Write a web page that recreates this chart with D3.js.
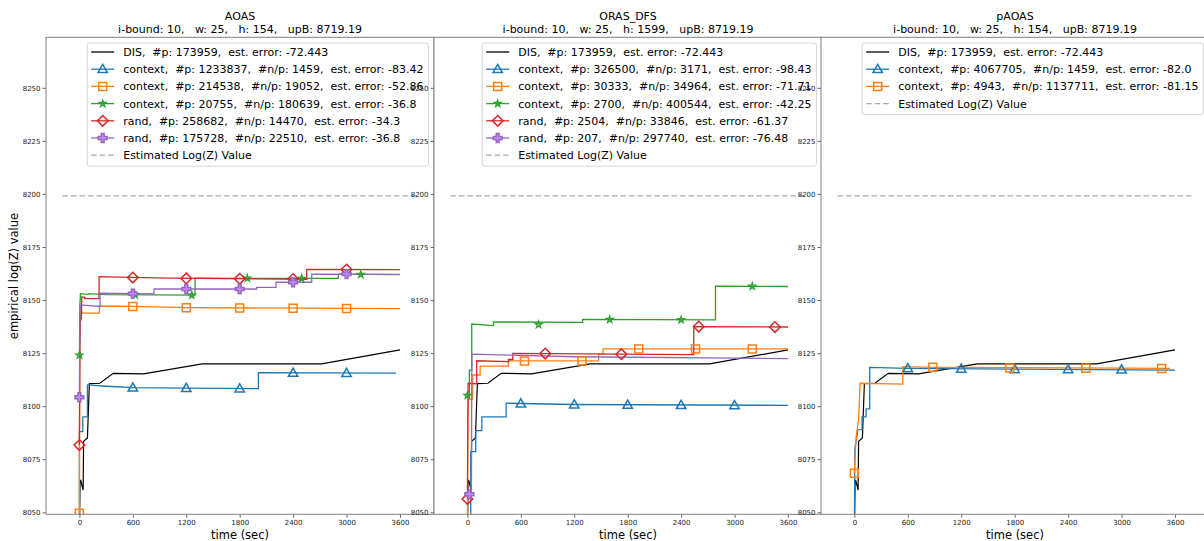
<!DOCTYPE html>
<html><head><meta charset="utf-8">
<script src="https://cdn.jsdelivr.net/npm/d3@7"></script>
<style>
body{margin:0;background:#fff}
svg{display:block}
text{font-family:"DejaVu Sans",sans-serif;white-space:pre}
</style>
</head><body>
<svg id="chart" width="1204" height="541"></svg>
<script>
// ---------- data ----------
const panelTitles = ["AOAS", "ORAS_DFS", "pAOAS"];
const panelSubtitles = [
  "i-bound: 10,   w: 25,   h: 154,   upB: 8719.19",
  "i-bound: 10,   w: 25,   h: 1599,   upB: 8719.19",
  "i-bound: 10,   w: 25,   h: 154,   upB: 8719.19"
];
const xTicks = [0, 600, 1200, 1800, 2400, 3000, 3600];
const yTicks = [8050, 8075, 8100, 8125, 8150, 8175, 8200, 8225, 8250];
const xDomain = [-375, 3982];
const yDomain = [8049.06, 8273.8];
const estimatedLogZ = 8199.1;
const estimatedSpan = [-190, 3790];

// DIS (same run in every panel)
const disLine = [[0,8040],[8,8065],[15,8065],[42,8060.5],[47,8083.5],[90,8085],[112,8110.6],[230,8110.8],[380,8115.5],[720,8115.2],[1380,8119.9],[2720,8119.9],[3600,8126.5]];
const disLabel = "DIS,  #p: 173959,  est. error: -72.443";

// AOAS
const aoasContextA = [[0,8040],[0,8088],[38,8088],[38,8095],[90,8095],[90,8110],[300,8109.4],[600,8108.7],[1200,8108.5],[2010,8108.3],[2010,8115.8],[3555,8115.6]];
const aoasContextAMarks = [[600,8108.7],[1200,8108.5],[1800,8108.3],[2400,8115.7],[3000,8115.6]];
const aoasContextB = [[0,8049.5],[5,8130],[12,8144.8],[27,8144.6],[30,8143.8],[225,8143.8],[225,8147.2],[600,8147],[1200,8146.4],[3600,8146]];
const aoasContextBMarks = [[0,8049.5],[600,8147],[1200,8146.4],[1800,8146.2],[2400,8146.1],[3000,8146]];
const aoasContextC = [[0,8124],[5,8147],[12,8153],[100,8152.7],[110,8153],[300,8152.6],[1299,8152.3],[1299,8160.3],[2908,8160.2],[2908,8162.2],[3600,8162]];
const aoasContextCMarks = [[0,8124],[625,8152.5],[1262,8152.3],[1886,8160.3],[2496,8160.2],[3160,8162]];
const aoasRandA = [[0,8081.7],[5,8130],[10,8140],[22,8141],[27,8151.5],[60,8151.3],[60,8150.7],[221,8150.7],[221,8161],[1000,8160.3],[2553,8159.8],[2553,8164.5],[3600,8164.3]];
const aoasRandAMarks = [[0,8081.7],[600,8160.6],[1200,8160.2],[1800,8160],[2400,8159.9],[3000,8164.4]];
const aoasRandB = [[0,8104.2],[5,8138],[10,8147.7],[232,8147],[232,8153.2],[838,8152.9],[838,8155.2],[1991,8155.2],[1991,8156],[2208,8156],[2208,8158.4],[2609,8158.4],[2609,8162.2],[3600,8162.1]];
const aoasRandBMarks = [[0,8104.2],[600,8153],[1200,8155.2],[1800,8155.2],[2400,8158.4],[3000,8162.2]];
const aoasLabels = [
  "context,  #p: 1233837,  #n/p: 1459,  est. error: -83.42",
  "context,  #p: 214538,  #n/p: 19052,  est. error: -52.86",
  "context,  #p: 20755,  #n/p: 180639,  est. error: -36.8",
  "rand,  #p: 258682,  #n/p: 14470,  est. error: -34.3",
  "rand,  #p: 175728,  #n/p: 22510,  est. error: -36.8"
];

// ORAS_DFS
const orasContextA = [[38,8040],[38,8078.6],[94,8078.6],[94,8088.5],[162,8088.5],[162,8095],[435,8095],[435,8101.4],[1200,8100.8],[3600,8100.4]];
const orasContextAMarks = [[600,8101.2],[1200,8100.8],[1800,8100.6],[2400,8100.5],[3000,8100.4]];
const orasContextB = [[0,8040],[5,8095],[12,8103.3],[60,8103.3],[60,8114.7],[143,8114.7],[143,8118.9],[461,8118.9],[461,8121.3],[1474,8121.3],[1474,8124.6],[1523,8124.6],[1523,8127],[3600,8127]];
const orasContextBMarks = [[641,8121.3],[1287,8121.3],[1924,8127],[2562,8127],[3199,8127]];
const orasContextC = [[0,8105],[22,8105],[22,8117],[49,8117],[49,8138.7],[293,8138],[293,8139.7],[1294,8139.5],[1294,8140.9],[2786,8140.7],[2786,8156.6],[3600,8156.4]];
const orasContextCMarks = [[0,8105],[799,8138.4],[1598,8140.8],[2400,8140.7],[3199,8156.5]];
const orasRandA = [[0,8056.3],[8,8110.8],[105,8110.5],[105,8121.4],[461,8121],[461,8122],[510,8122],[510,8124.9],[2542,8124.3],[2542,8137.5],[3600,8137.3]];
const orasRandAMarks = [[0,8056.3],[874,8124.8],[1729,8124.5],[2598,8137.5],[3453,8137.3]];
const orasRandB = [[22,8058.5],[45,8060],[50,8124.5],[1200,8123.3],[3600,8122.4]];
const orasRandBMarks = [[22,8058.5]];
const orasLabels = [
  "context,  #p: 326500,  #n/p: 3171,  est. error: -98.43",
  "context,  #p: 30333,  #n/p: 34964,  est. error: -71.71",
  "context,  #p: 2700,  #n/p: 400544,  est. error: -42.25",
  "rand,  #p: 2504,  #n/p: 33846,  est. error: -61.37",
  "rand,  #p: 207,  #n/p: 297740,  est. error: -76.48"
];

// pAOAS
const paoasContextA = [[0,8040],[5,8080],[30,8086],[37,8088.8],[86,8089],[86,8095],[131,8095],[131,8098.7],[172,8098.7],[172,8118.3],[600,8117.8],[3600,8117]];
const paoasContextAMarks = [[600,8117.8],[1200,8117.6],[1800,8117.4],[2400,8117.3],[3000,8117.2]];
const paoasContextB = [[0,8068.4],[19,8085.6],[48,8094],[64,8110.8],[544,8110.4],[544,8118.6],[900,8118.3],[3542,8117.8]];
const paoasContextBMarks = [[0,8068.4],[881,8118.3],[1744,8118],[2599,8117.9],[3450,8117.8]];
const paoasLabels = [
  "context,  #p: 4067705,  #n/p: 1459,  est. error: -82.0",
  "context,  #p: 4943,  #n/p: 1137711,  est. error: -81.15"
];
const estimatedLabel = "Estimated Log(Z) Value";

// ---------- styles ----------
const colors = {blue:"#1f77b4", orange:"#ff7f0e", green:"#2ca02c", red:"#d62728", purple:"#9467bd"};
const markerPaths = {
  tri: "M0,-4.8L4.7,3.4L-4.7,3.4Z",
  square: "M-4,-4H4V4H-4Z",
  diamond: "M0,-5.3L5.3,0L0,5.3L-5.3,0Z",
  star: d3.symbol(d3.symbolStar, 15)(),
  plus: "M-1.4,-4.4H1.4V-1.4H4.4V1.4H1.4V4.4H-1.4V1.4H-4.4V-1.4H-1.4Z"
};

function seriesList(datas, marks, labels, kinds) {
  return datas.map((d, i) => ({data: d, marks: marks[i], label: labels[i], color: colors[kinds[i][0]], marker: kinds[i][1]}));
}
const panels = [
  {series: seriesList([aoasContextA, aoasContextB, aoasContextC, aoasRandA, aoasRandB],
     [aoasContextAMarks, aoasContextBMarks, aoasContextCMarks, aoasRandAMarks, aoasRandBMarks], aoasLabels,
     [["blue","tri"],["orange","square"],["green","star"],["red","diamond"],["purple","plus"]])},
  {series: seriesList([orasContextA, orasContextB, orasContextC, orasRandA, orasRandB],
     [orasContextAMarks, orasContextBMarks, orasContextCMarks, orasRandAMarks, orasRandBMarks], orasLabels,
     [["blue","tri"],["orange","square"],["green","star"],["red","diamond"],["purple","plus"]])},
  {series: seriesList([paoasContextA, paoasContextB], [paoasContextAMarks, paoasContextBMarks], paoasLabels,
     [["blue","tri"],["orange","square"]])}
];

function markerFill(m, c) {
  if (m === "star") return c;
  if (m === "plus") return d3.color(c).brighter(0.9).formatHex();
  return "none";
}

// ---------- layout ----------
const svg = d3.select("#chart");
const lefts = [46, 434, 821];
const pw = 388, axTop = 37.3, axBottom = 514.3;
const y = d3.scaleLinear().domain(yDomain).range([axBottom, axTop]);
const spineColor = "#808080";

panels.forEach((p, pi) => {
  const left = lefts[pi];
  const x = d3.scaleLinear().domain(xDomain).range([left, left + pw]);
  const g = svg.append("g");
  const clipId = "clip" + pi;
  g.append("clipPath").attr("id", clipId).append("rect")
    .attr("x", left).attr("y", axTop).attr("width", pw).attr("height", axBottom - axTop);

  g.append("rect").attr("x", left).attr("y", axTop).attr("width", pw).attr("height", axBottom - axTop).attr("fill", "#fff");

  const plot = g.append("g").attr("clip-path", `url(#${clipId})`);
  const line = d3.line().x(d => x(d[0])).y(d => y(d[1]));

  plot.append("path").attr("d", line(disLine)).attr("fill", "none").attr("stroke", "#000").attr("stroke-width", 1.2);
  p.series.forEach(s => {
    plot.append("path").attr("d", line(s.data)).attr("fill", "none").attr("stroke", s.color).attr("stroke-width", 1.3);
  });
  plot.append("path").attr("d", line([[estimatedSpan[0], estimatedLogZ], [estimatedSpan[1], estimatedLogZ]]))
    .attr("fill", "none").attr("stroke", "#aaaaaa").attr("stroke-width", 1.3).attr("stroke-dasharray", "5.5,3");
  p.series.forEach(s => {
    plot.selectAll(null).data(s.marks).enter().append("path")
      .attr("d", markerPaths[s.marker])
      .attr("transform", d => `translate(${x(d[0])},${y(d[1])})`)
      .attr("fill", markerFill(s.marker, s.color)).attr("fill-opacity", s.marker === "star" ? 0.45 : 1)
      .attr("stroke", s.color).attr("stroke-width", s.marker === "star" ? 1.2 : 1.5);
  });

  const xAxis = d3.axisBottom(x).tickValues(xTicks).tickSize(3.5).tickPadding(2).tickFormat(d3.format("d"));
  const yAxis = d3.axisLeft(y).tickValues(yTicks).tickSize(3.5).tickPadding(2).tickFormat(d3.format("d"));
  const gx = g.append("g").attr("transform", `translate(0,${axBottom})`).call(xAxis);
  const gy = g.append("g").attr("transform", `translate(${left},0)`).call(yAxis);
  [gx, gy].forEach(a => {
    a.select(".domain").remove();
    a.selectAll(".tick line").attr("stroke", "#444").attr("stroke-width", 0.8);
    a.selectAll(".tick text").attr("font-size", 7).attr("fill", "#222").attr("font-family", "DejaVu Sans");
  });
  g.append("rect").attr("x", left).attr("y", axTop).attr("width", pw).attr("height", axBottom - axTop)
    .attr("fill", "none").attr("stroke", spineColor).attr("stroke-width", 1);

  const cx = left + pw / 2;
  g.append("text").attr("x", cx).attr("y", 20).attr("text-anchor", "middle").attr("font-size", 11).text(panelTitles[pi]);
  g.append("text").attr("x", cx).attr("y", 32.5).attr("text-anchor", "middle").attr("font-size", 11).text(panelSubtitles[pi]);
  g.append("text").attr("x", cx).attr("y", 539).attr("text-anchor", "middle").attr("font-size", 11.5).text("time (sec)");

  const entries = [{label: disLabel, color: "#000", marker: null}]
    .concat(p.series.map(s => ({label: s.label, color: s.color, marker: s.marker})))
    .concat([{label: estimatedLabel, color: "#aaaaaa", marker: null, dash: true}]);
  const lg = g.append("g");
  const box = lg.append("rect");
  const rowH = 17.2, firstRow = 52;
  const texts = entries.map((e, i) => lg.append("text").attr("y", firstRow + i * rowH + 4).attr("font-size", 11).text(e.label));
  const maxW = d3.max(texts, t => t.node().getComputedTextLength());
  const boxRight = left + pw - 5.5;
  const boxLeft = boxRight - maxW - 41;
  box.attr("x", boxLeft).attr("y", 43).attr("width", boxRight - boxLeft).attr("height", firstRow + (entries.length - 1) * rowH + 11 - 43)
    .attr("rx", 2.5).attr("fill", "#fff").attr("fill-opacity", 0.8).attr("stroke", "#d6d6d6").attr("stroke-width", 1);
  texts.forEach(t => t.attr("x", boxLeft + 36));
  entries.forEach((e, i) => {
    const cy = firstRow + i * rowH;
    lg.append("line").attr("x1", boxLeft + 4).attr("x2", boxLeft + 27).attr("y1", cy).attr("y2", cy)
      .attr("stroke", e.color).attr("stroke-width", 1.3).attr("stroke-dasharray", e.dash ? "5.5,3" : null);
    if (e.marker) {
      lg.append("path").attr("d", markerPaths[e.marker]).attr("transform", `translate(${boxLeft + 15.5},${cy})`)
        .attr("fill", markerFill(e.marker, e.color)).attr("fill-opacity", e.marker === "star" ? 0.45 : 1)
        .attr("stroke", e.color).attr("stroke-width", e.marker === "star" ? 1.2 : 1.5);
    }
  });
});

svg.append("text").attr("transform", "translate(18,276) rotate(-90)").attr("text-anchor", "middle")
  .attr("font-size", 11.5).text("empirical log(Z) value");
</script>
</body></html>
